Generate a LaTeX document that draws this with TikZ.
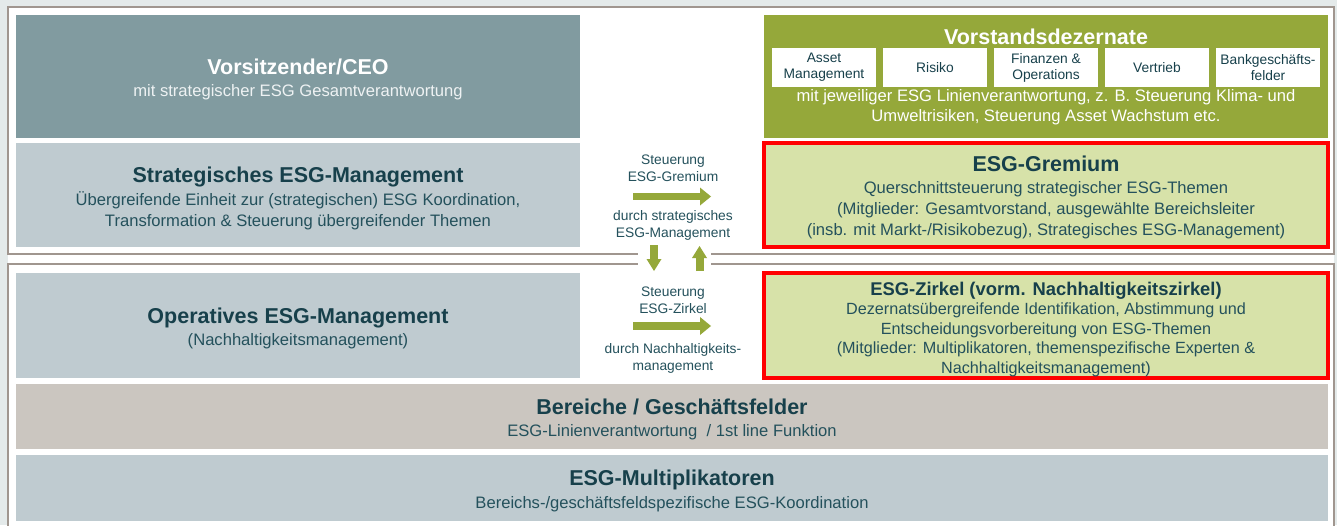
\documentclass[tikz,border=0pt]{standalone}
\usepackage{fontspec}
\setmainfont{Liberation Sans}
\usetikzlibrary{arrows.meta}
\definecolor{bgc}{HTML}{E4EAEA}
\definecolor{framec}{HTML}{A0968F}
\definecolor{ceoc}{HTML}{819BA0}
\definecolor{palec}{HTML}{BFCBD0}
\definecolor{sandc}{HTML}{CBC6C0}
\definecolor{olivec}{HTML}{95A83A}
\definecolor{limec}{HTML}{D7E2A9}
\definecolor{redc}{HTML}{FF0000}
\definecolor{ttlc}{HTML}{17404B}
\definecolor{txtc}{HTML}{24515C}
\newcommand{\ttlfont}{\fontsize{21.5}{22}\selectfont\bfseries}
\newcommand{\bodyfont}{\fontsize{16.6}{21}\selectfont}
\newcommand{\smallfnt}{\fontsize{13.8}{17}\selectfont}
\newcommand{\tinyfnt}{\fontsize{13.8}{16}\selectfont}
\begin{document}
\begin{tikzpicture}[x=1pt,y=-1pt,
  every node/.style={inner sep=0pt, outer sep=0pt},
  panel/.style={minimum width=564pt},
  wide/.style={minimum width=1312pt},
  ptext/.style={align=center, text=txtc, font=\bodyfont},
  redframe/.style={draw=redc, line width=3.5pt, fill=limec},
  subbox/.style={fill=white, minimum width=104pt, minimum height=39pt, align=center, text=ttlc, font=\tinyfnt},
  midtext/.style={align=center, text=txtc, font=\smallfnt},
  fatarrow/.style={draw=olivec, line width=7.5pt, line cap=butt, -{Triangle[length=11pt, width=18pt, line width=0pt]}},
  vertarrow/.style={draw=olivec, line width=8pt, line cap=butt, -{Triangle[length=12pt, width=15pt, line width=0pt]}}
]
\useasboundingbox (0,0) rectangle (1337,525);
% background and frames
\fill[bgc] (0,0) rectangle (1337,525);
\fill[white] (8,7) rectangle (1334,530);
\draw[framec, line width=2pt] (8,7) rectangle (1334,254);
\draw[framec, line width=2pt] (8,264) rectangle (1334,535);
\fill[white] (638,250) rectangle (711,268);

% left column
\node[panel, fill=ceoc, minimum height=123pt] (ceo) at (298,76.5) {};
\node[ptext, text=white] (ceot) at ([yshift=-3pt]ceo.center)
  {{\ttlfont Vorsitzender/CEO}\\[1pt]{\color[HTML]{EEF2F3}mit strategischer ESG Gesamtverantwortung}};
\node[panel, fill=palec, minimum height=104pt] (strat) at (298,195) {};
\node[ptext] (stratt) at ([yshift=-3pt]strat.center)
  {{\ttlfont\color{ttlc} Strategisches ESG-Management}\\[2pt]\"Ubergreifende Einheit zur (strategischen) ESG Koordination,\\Transformation \& Steuerung \"ubergreifender Themen};
\node[panel, fill=palec, minimum height=105pt] (oper) at (298,325.5) {};
\node[ptext] (opert) at ([yshift=-3pt]oper.center)
  {{\ttlfont\color{ttlc} Operatives ESG-Management}\\[1pt](Nachhaltigkeitsmanagement)};

% right column
\node[panel, fill=olivec, minimum height=123pt] (vorst) at (1046,76.5) {};
\node[text=white, font=\ttlfont] (vtitle) at (1046,37) {Vorstandsdezernate};
\node[subbox] (am) at (824,67.5) {Asset\\Management};
\node[subbox] (ri) at (935,67.5) {Risiko};
\node[subbox] (fo) at (1046,67.5) {Finanzen \&\\Operations};
\node[subbox] (ve) at (1157,67.5) {Vertrieb};
\node[subbox] (bg) at (1268,67.5) {Bankgesch\"afts-\\felder};
\node[align=center, text=white, font={\fontsize{16.6}{20}\selectfont}] (vtext) at (1046,107)
  {mit jeweiliger ESG Linienverantwortung, z. B. Steuerung Klima- und\\Umweltrisiken, Steuerung Asset Wachstum etc.};

\node[panel, redframe, minimum height=104pt] (grem) at (1046,195) {};
\node[ptext] (gremt) at ([yshift=-2.5pt]grem.center)
  {{\ttlfont\color{ttlc} ESG-Gremium}\\[1pt]Querschnittsteuerung strategischer ESG-Themen\\(Mitglieder: Gesamtvorstand, ausgew\"ahlte Bereichsleiter\\(insb. mit Markt-/Risikobezug), Strategisches ESG-Management)};
\node[panel, redframe, minimum height=105pt] (zirk) at (1046,325.5) {};
\node[ptext, font={\fontsize{16.2}{19.5}\selectfont}] (zirkt) at ([yshift=-3.8pt]zirk.center)
  {{\fontsize{18.4}{19.5}\selectfont\bfseries\color{ttlc} ESG-Zirkel (vorm. Nachhaltigkeitszirkel)}\\Dezernats\"ubergreifende Identifikation, Abstimmung und\\Entscheidungsvorbereitung von ESG-Themen\\(Mitglieder: Multiplikatoren, themenspezifische Experten \&\\Nachhaltigkeitsmanagement)};

% bottom bars
\node[wide, fill=sandc, minimum height=65pt] (ber) at (672,416.5) {};
\node[ptext] (bert) at ([yshift=-3pt]ber.center)
  {{\ttlfont\color{ttlc} Bereiche / Gesch\"aftsfelder}\\[1pt]ESG-Linienverantwortung~ / 1st line Funktion};
\node[wide, fill=palec, minimum height=66pt] (mult) at (672,488) {};
\node[ptext] (multt) at ([yshift=-2.5pt]mult.center)
  {{\ttlfont\color{ttlc} ESG-Multiplikatoren}\\[2pt]Bereichs-/gesch\"aftsfeldspezifische ESG-Koordination};

% middle texts
\node[midtext] (t1) at (673,168.5) {Steuerung\\ESG-Gremium};
\node[midtext] (t2) at (673,225.5) {durch strategisches\\ESG-Management};
\node[midtext] (t3) at (673,300) {Steuerung\\ESG-Zirkel};
\node[midtext] (t4) at (673,358) {durch Nachhaltigkeits-\\management};

% arrows
\coordinate (a1s) at (633,196.5);
\coordinate (a1e) at (711,196.5);
\coordinate (a2s) at (633,326);
\coordinate (a2e) at (711,326);
\coordinate (d1s) at (654,245);
\coordinate (d1e) at (654,271);
\coordinate (u1s) at (699.5,271);
\coordinate (u1e) at (699.5,246);
\draw[fatarrow] (a1s) -- (a1e);
\draw[fatarrow] (a2s) -- (a2e);
\draw[vertarrow] (d1s) -- (d1e);
\draw[vertarrow] (u1s) -- (u1e);
\end{tikzpicture}
\end{document}
